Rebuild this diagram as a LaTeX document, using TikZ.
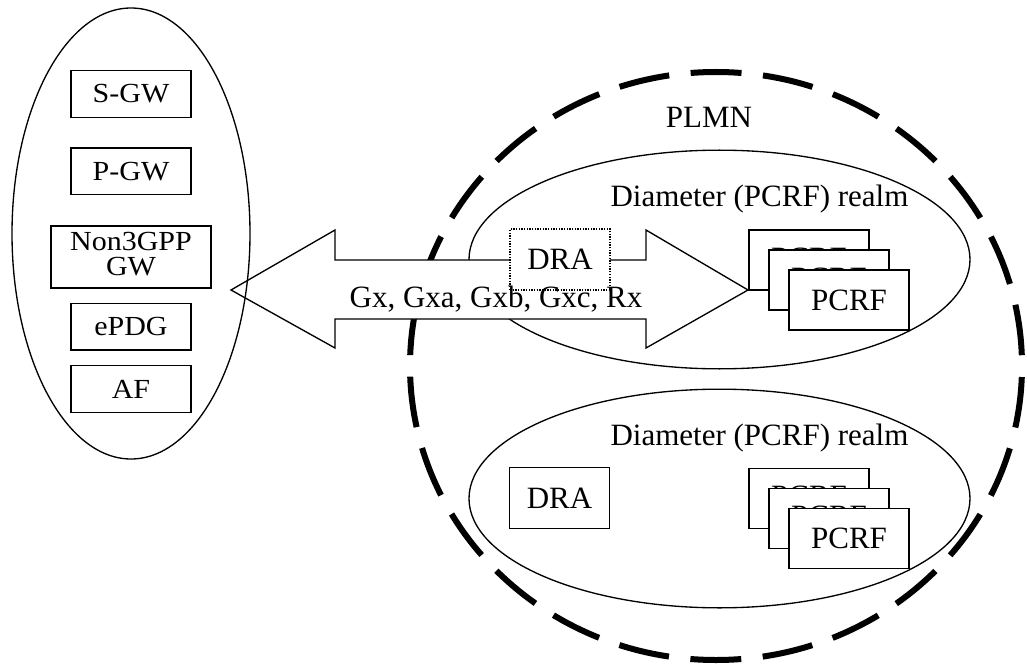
\documentclass[tikz,border=0pt]{standalone}
\usepackage{fontspec}
\usepackage{graphicx}
\setmainfont{Liberation Serif}
\usetikzlibrary{shapes.geometric}
\newcommand{\sq}[1]{\scalebox{1}[0.92]{#1}}
\newcommand{\backtext}[1]{\raisebox{3pt}{#1}}
\begin{document}
\begin{tikzpicture}[x=0.75pt,y=-0.75pt,
  bigtext/.style={font=\fontsize{23.25}{27}\selectfont},
  gwbox/.style={draw, line width=1pt, fill=white, minimum width=90pt, minimum height=35pt, inner sep=0pt, font=\fontsize{22.5}{17}\selectfont},
  rbox/.style={draw, line width=1pt, fill=white, inner sep=0pt, bigtext},
  drabox/.style={rbox, minimum width=75pt, minimum height=45.5pt},
  pcrfbox/.style={rbox, minimum width=90pt, minimum height=45pt},
  realm/.style={ellipse, draw, line width=1pt, inner sep=0pt, minimum width=375.75pt, minimum height=164pt},
  plmnline/.style={line width=4.5pt, dash pattern=on 38.2pt off 16.18pt, dash phase=46.3pt},
]
\useasboundingbox (0,0) rectangle (1027,670);

% PLMN
\node[ellipse, draw, plmnline, inner sep=0pt, minimum width=459pt, minimum height=441pt] (plmn) at (716,366) {};
\node[bigtext, anchor=base] (plmnlabel) at (709,128) {PLMN};

% realms
\node[realm] (realm1) at (719.5,259.5) {};
\node[realm] (realm2) at (719.5,498.5) {};
\node[bigtext, anchor=base] (realm1label) at (759.5,207) {Diameter (PCRF) realm};
\node[bigtext, anchor=base] (realm2label) at (759.5,445) {Diameter (PCRF) realm};

% PCRF stacks
\node[pcrfbox] (p1a) at (809,260) {\backtext{PCRF}};
\node[pcrfbox] (p1b) at (829,280) {\backtext{PCRF}};
\node[pcrfbox] (p1c) at (849,300) {PCRF};
\node[pcrfbox] (p2a) at (809,498.5) {\backtext{PCRF}};
\node[pcrfbox] (p2b) at (829,518.5) {\backtext{PCRF}};
\node[pcrfbox] (p2c) at (849,538.5) {PCRF};

% double arrow
\draw[line width=1pt, fill=white] (231,290) -- (335,230) -- (335,260) -- (646,260) -- (646,230)
  -- (748,290) -- (646,348) -- (646,319) -- (335,319) -- (335,348) -- cycle;

% DRAs
\node[drabox, densely dotted, line width=1.4pt] (dra1) at (560,259.5) {DRA};
\node[drabox] (dra2) at (559.5,498) {DRA};

\node[bigtext, anchor=base] (iflabel) at (496,307) {Gx, Gxa, Gxb, Gxc, Rx};

% core side
\node[ellipse, draw, line width=1pt, inner sep=0pt, minimum width=178.5pt, minimum height=338.25pt] (core) at (131,233.5) {};
\node[gwbox] (sgw) at (131,94) {\sq{S-GW}};
\node[gwbox] (pgw) at (131,171.5) {\sq{P-GW}};
\node[gwbox, minimum width=120pt, minimum height=46.5pt] (n3gw) at (131,257) {\raisebox{-2pt}{\sq{\begin{tabular}{@{}c@{}}Non3GPP\\GW\end{tabular}}}};
\node[gwbox] (epdg) at (131,326.5) {\sq{ePDG}};
\node[gwbox] (af) at (131,389) {\sq{AF}};
\end{tikzpicture}
\end{document}
